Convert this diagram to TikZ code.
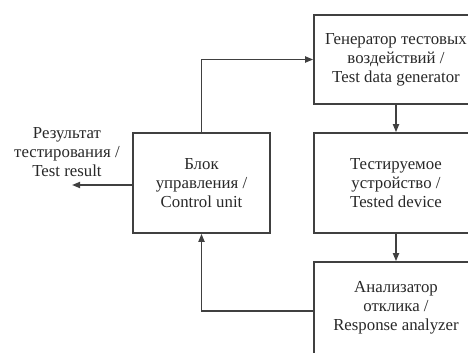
\documentclass[tikz,border=0pt]{standalone}
\usepackage{fontspec}
\setmainfont{Liberation Serif}
\usepackage{xcolor}
\definecolor{lngray}{RGB}{64,64,64}
\definecolor{txgray}{RGB}{40,40,40}
\usetikzlibrary{arrows.meta,positioning}

\begin{document}
\begin{tikzpicture}[
  x=1pt, y=-1pt,
  every node/.style={font=\fontsize{16.8}{19}\selectfont,text=txgray},
  blkbox/.style={draw=lngray,line width=1.6pt,minimum width=164pt,
                 align=center,inner sep=0pt},
  arr/.style={-{Triangle[length=8pt,width=6pt]},line width=1.7pt,lngray},
]
  \useasboundingbox (0,0) rectangle (468,356);
  \clip (0,0) rectangle (468,352.5);

  % control unit
  \node[blkbox,minimum width=137pt,minimum height=100pt] (ctrl) at (201.5,183)
    {Блок\\управления /\\Control unit};

  % right column
  \node[blkbox,minimum height=89pt] (gen) at (396,59.5)
    {Генератор тестовых\\воздействий /\\Test data generator};
  \node[blkbox,minimum height=100pt] (dut) at (396,183)
    {Тестируемое\\устройство /\\Tested device};
  \node[blkbox,minimum height=92pt] (anlz) at (396,308)
    {Анализатор\\отклика /\\Response analyzer};

  % output
  \coordinate (out) at (72,185);
  \node[align=center] (res) at (67,152)
    {Результат\\тестирования /\\Test result};

  % Arrows
  \draw[arr] (ctrl.north) |- (gen.west);
  \draw[arr] (gen) -- (dut);
  \draw[arr] (dut) -- (anlz);
  \draw[arr] ([yshift=-3pt]anlz.west) -| (ctrl.south);
  \draw[arr] ([yshift=-2pt]ctrl.west) -- (out);
\end{tikzpicture}
\end{document}
